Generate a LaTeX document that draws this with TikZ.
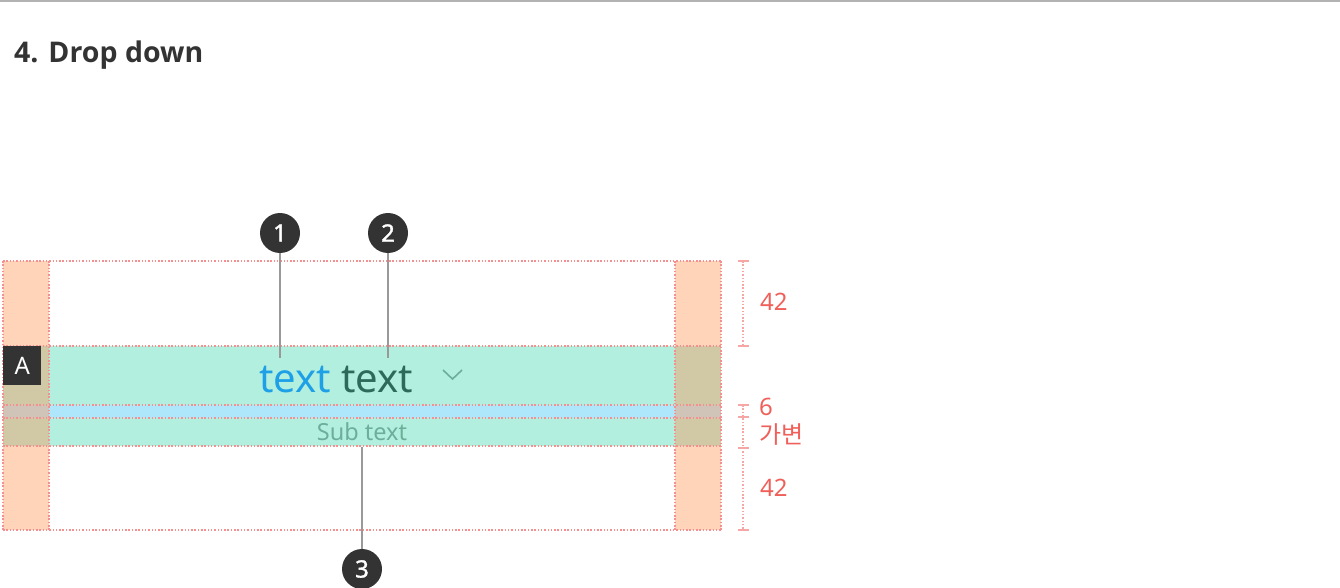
\documentclass[tikz,border=0pt]{standalone}
\usepackage{fontspec}
\setmainfont{Noto Sans}
\newfontfamily\kr{Noto Sans CJK KR}
\newfontfamily\heavy{Open Sans}
\newfontfamily\semi{Noto Sans}[FakeBold=1.4]
\definecolor{guide}{HTML}{F59090}
\definecolor{orng}{HTML}{FFD4B9}
\definecolor{teal}{HTML}{B3EFDF}
\definecolor{lblue}{HTML}{AEE6FC}
\definecolor{olap}{HTML}{D1C8A6}
\definecolor{olapb}{HTML}{CFC4B7}
\definecolor{dimred}{HTML}{F0605A}
\definecolor{dark}{HTML}{333333}
\definecolor{tblue}{HTML}{1EA0E6}
\definecolor{tgreen}{HTML}{2E6A5A}
\definecolor{subc}{HTML}{6CAE9A}
\definecolor{leader}{HTML}{999999}
\tikzset{
  guideline/.style={guide, line width=1.5pt, dash pattern=on 1.5pt off 1.8pt},
  dimline/.style={guide!80, line width=1.5pt, dash pattern=on 1.5pt off 1.8pt},
  dimtick/.style={guide!80, line width=1.5pt},
  callout/.style={circle, fill=dark, minimum size=40pt, inner sep=0pt, text=white, font=\semi\fontsize{24}{24}\selectfont},
  leaderline/.style={leader, line width=1.8pt},
  dimlabel/.style={text=dimred, font=\fontsize{24}{24}\selectfont, anchor=west, inner sep=0pt}
}
\begin{document}
\begin{tikzpicture}[x=1pt,y=-1pt]
\useasboundingbox (0,0) rectangle (1340,588);
% top rule
\draw[line width=2pt, color=black!30] (0,1) -- (1340,1);
% title
\node[anchor=base west, inner sep=0pt, text=dark, font=\heavy\bfseries\fontsize{28.5}{28.5}\selectfont] (title) at (14,63) {4. Drop down};
% fills
\fill[orng] (3,261) rectangle (49,530);
\fill[orng] (675,261) rectangle (721,530);
\fill[teal] (49,346) rectangle (675,446);
\fill[lblue] (49,405) rectangle (675,418);
\fill[olap] (3,346) rectangle (49,446);
\fill[olap] (675,346) rectangle (721,446);
\fill[olapb] (3,405) rectangle (49,418);
\fill[olapb] (675,405) rectangle (721,418);
% guides
\foreach \yy in {261,346,405,418,446,530} \draw[guideline] (3,\yy) -- (721,\yy);
\foreach \xx in {3,49,675,721} \draw[guideline] (\xx,261) -- (\xx,530);
% A label
\node[fill=dark, text=white, minimum width=38pt, minimum height=39pt, inner sep=0pt, anchor=north west, font=\fontsize{24}{24}\selectfont] (A) at (3,346) {A};
% texts
\node[anchor=base west, inner sep=0pt, text=tblue, font=\fontsize{40}{40}\selectfont] (t1) at (259,392) {text};
\node[anchor=base west, inner sep=0pt, text=tgreen, font=\fontsize{40}{40}\selectfont] (t2) at (341,392) {text};
\draw[subc, line width=1.6pt] (443,370) -- (452.5,379) -- (462,370);
\node[inner sep=0pt, text=subc, font=\fontsize{23.5}{23.5}\selectfont] (sub) at (362,432) {Sub text};
% callouts
\node[callout] (c1) at (280,233) {1};
\node[callout] (c2) at (388,233) {2};
\node[callout] (c3) at (362,569) {3};
\coordinate (p1) at (280,358);
\coordinate (p2) at (388,358);
\coordinate (p3) at (362,447);
\draw[leaderline] (c1.south) -- (p1);
\draw[leaderline] (c2.south) -- (p2);
\draw[leaderline] (c3.north) -- (p3);
% dimensions
\coordinate (d0) at (743,261);
\coordinate (d1) at (743,346);
\coordinate (d2) at (743,405);
\coordinate (d3) at (743,417);
\coordinate (d4) at (743,448);
\coordinate (d5) at (743,530);
\draw[dimline] (d0) -- (d1);
\draw[dimline] (d2) -- (d5);
\foreach \d in {d0,d1,d2,d3,d4,d5} \draw[dimtick] ([xshift=-5.5pt]\d) -- ([xshift=5.5pt]\d);
\node[dimlabel] (l1) at (760,302) {42};
\node[dimlabel] (l2) at (759,407) {6};
\node[dimlabel] (l3) at (759,434) {\kr 가변};
\node[dimlabel] (l4) at (760,488) {42};
\end{tikzpicture}
\end{document}
